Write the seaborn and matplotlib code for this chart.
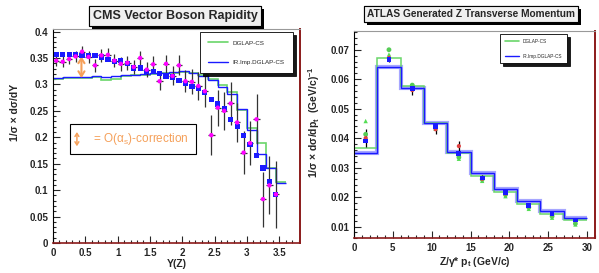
import numpy as np
import seaborn as sns
import matplotlib.pyplot as plt
from matplotlib import patheffects
from matplotlib.lines import Line2D
from matplotlib.ticker import FuncFormatter, MultipleLocator

# ---- left panel data: CMS Z rapidity ----
y_bins = [0.05, 0.15, 0.25, 0.35, 0.45, 0.55, 0.65, 0.75, 0.85, 0.95,
          1.05, 1.15, 1.25, 1.35, 1.45, 1.55, 1.65, 1.75, 1.85, 1.95,
          2.05, 2.15, 2.25, 2.35, 2.45, 2.55, 2.65, 2.75, 2.85, 2.95,
          3.05, 3.15, 3.25, 3.35, 3.45]
cms_data = [0.345, 0.343, 0.348, 0.353, 0.362, 0.352, 0.336, 0.355, 0.356, 0.345,
            0.339, 0.341, 0.333, 0.350, 0.328, 0.338, 0.306, 0.339, 0.316, 0.336,
            0.306, 0.305, 0.297, 0.287, 0.204, 0.256, 0.250, 0.264, 0.228, 0.171,
            0.189, 0.234, 0.083, 0.109, 0.092]
cms_err = [0.010, 0.010, 0.010, 0.010, 0.011, 0.011, 0.012, 0.012, 0.012, 0.012,
           0.013, 0.013, 0.013, 0.014, 0.014, 0.015, 0.016, 0.017, 0.018, 0.019,
           0.021, 0.024, 0.026, 0.029, 0.038, 0.034, 0.036, 0.040, 0.037, 0.040,
           0.042, 0.047, 0.052, 0.055, 0.063]
cms_blue = [0.356, 0.356, 0.356, 0.356, 0.355, 0.354, 0.355, 0.352, 0.347, 0.344,
            0.345, 0.339, 0.331, 0.331, 0.325, 0.325, 0.320, 0.316, 0.314, 0.308,
            0.301, 0.296, 0.292, 0.284, 0.272, 0.263, 0.255, 0.234, 0.221, 0.203,
            0.186, 0.165, 0.142, 0.117, 0.092]
rap_edges = [0.0, 0.15, 0.3, 0.45, 0.6, 0.75, 0.9, 1.05, 1.2, 1.35, 1.5, 1.65,
             1.8, 1.95, 2.1, 2.25, 2.4, 2.55, 2.7, 2.85, 3.0, 3.15, 3.3, 3.45, 3.6]
rap_dglap = [0.310, 0.312, 0.313, 0.313, 0.315, 0.309, 0.310, 0.316, 0.317, 0.318,
             0.320, 0.321, 0.322, 0.323, 0.321, 0.318, 0.311, 0.298, 0.285, 0.252,
             0.218, 0.190, 0.142, 0.115]
rap_irimp = [0.313, 0.314, 0.314, 0.314, 0.316, 0.314, 0.316, 0.317, 0.318, 0.319,
             0.321, 0.322, 0.323, 0.325, 0.322, 0.316, 0.309, 0.296, 0.281, 0.253,
             0.213, 0.169, 0.141, 0.113]

# ---- right panel data: ATLAS Z pT ----
pt_edges = [0, 3, 6, 9, 12, 15, 18, 21, 24, 27, 30]
pt_centers = [1.5, 4.5, 7.5, 10.5, 13.5, 16.5, 19.5, 22.5, 25.5, 28.5]
pt_dglap = [0.0365, 0.0671, 0.0578, 0.0450, 0.0348, 0.0271, 0.0217, 0.0176, 0.0144, 0.0121]
pt_irimp = [0.0350, 0.0641, 0.0569, 0.0450, 0.0354, 0.0280, 0.0226, 0.0185, 0.0153, 0.0128]
pt_data = [0.0400, 0.0672, 0.0563, 0.0430, 0.0373, 0.0262, 0.0212, 0.0170, 0.0142, 0.0122]
pt_err = [0.0030, 0.0015, 0.0015, 0.0015, 0.0017, 0.0012, 0.0010, 0.0008, 0.0008, 0.0008]
pt_blue = [0.0390, 0.0666, 0.0569, 0.0440, 0.0347, 0.0265, 0.0215, 0.0172, 0.0145, 0.0122]
pt_green1 = [0.0413, 0.0700, 0.0580, 0.0438, 0.0335, 0.0260, 0.0208, 0.0165, 0.0135, 0.0110]
pt_green2 = [0.0458, 0.0684, 0.0575, 0.0432, 0.0330, 0.0255, 0.0203, 0.0160, 0.0130, 0.0107]

sns.set_style("ticks")
plt.rcParams['font.family'] = ['Liberation Sans', 'DejaVu Sans']
plt.rcParams['mathtext.default'] = 'regular'

GREEN = '#6ad66a'
BLUE = '#1a1aff'
PINK = '#ff00ff'
ORANGE = '#f5a05a'
FRAME_RED = '#8b1a1a'

fig = plt.figure(figsize=(5.99, 2.73), dpi=100)
ax1 = fig.add_axes([0.0885, 0.11, 0.412, 0.784])
ax2 = fig.add_axes([0.591, 0.127, 0.402, 0.761])


def root_style(ax):
    ax.tick_params(which='both', direction='in', top=False, right=False,
                   labelsize=7, width=0.8)
    ax.tick_params(which='major', length=5)
    ax.tick_params(which='minor', length=2.5)
    for lab in ax.get_xticklabels() + ax.get_yticklabels():
        lab.set_fontweight('bold')
    ax.spines['left'].set_color('black')
    ax.spines['top'].set_color('#999999')
    ax.spines['top'].set_linewidth(0.8)
    ax.spines['bottom'].set_color(FRAME_RED)
    ax.spines['right'].set_color(FRAME_RED)
    ax.spines['bottom'].set_linewidth(1.2)
    ax.spines['right'].set_linewidth(1.4)
    ax.yaxis.set_major_formatter(FuncFormatter(lambda v, p: '%g' % round(v, 4)))
    ax.xaxis.set_major_formatter(FuncFormatter(lambda v, p: '%g' % round(v, 4)))


# ---- left panel ----
ax1.stairs(rap_dglap, rap_edges, baseline=None, color=GREEN, lw=1.2)
ax1.stairs(rap_irimp, rap_edges, baseline=None, color=BLUE, lw=1.0)
ax1.errorbar(y_bins, cms_data, yerr=cms_err, xerr=0.05, fmt='none',
             ecolor='#333333', elinewidth=0.9, zorder=3)
sns.scatterplot(x=y_bins, y=cms_blue, ax=ax1, marker='s', s=14, color=BLUE,
                edgecolor='none', zorder=4)
sns.scatterplot(x=y_bins, y=cms_data, ax=ax1, marker='o', s=10, color=PINK,
                edgecolor='none', zorder=5)
ax1.set_xlim(0, 3.82)
ax1.set_ylim(0, 0.405)
ax1.xaxis.set_major_locator(MultipleLocator(0.5))
ax1.xaxis.set_minor_locator(MultipleLocator(0.1))
ax1.yaxis.set_major_locator(MultipleLocator(0.05))
ax1.yaxis.set_minor_locator(MultipleLocator(0.01))
root_style(ax1)
ax1.set_xlabel('Y(Z)', fontsize=7.5, fontweight='bold', labelpad=1)
ax1.set_ylabel('1/σ × dσ/dY', fontsize=7.5, fontweight='bold')
ax1.yaxis.set_label_coords(-0.135, 0.61)

# O(alpha_s) arrow inside the data
ax1.annotate('', xy=(0.44, 0.312), xytext=(0.44, 0.353),
             arrowprops=dict(arrowstyle='<->,head_length=0.35,head_width=0.22',
                             color=ORANGE, lw=1.5, shrinkA=0, shrinkB=0))
# explanation box
ax1.text(1.24, 0.196, '     = O(α$_s$)-correction', color=ORANGE, fontsize=8.5,
         ha='center', va='center',
         bbox=dict(boxstyle='square,pad=0.6', fc='white', ec='black', lw=0.8))
ax1.annotate('', xy=(0.37, 0.183), xytext=(0.37, 0.210),
             arrowprops=dict(arrowstyle='<->,head_length=0.22,head_width=0.14',
                             color=ORANGE, lw=1.1, shrinkA=0, shrinkB=0))

leg1 = ax1.legend(handles=[Line2D([], [], color=GREEN, lw=1.2),
                           Line2D([], [], color=BLUE, lw=1.0)],
                  labels=['DGLAP-CS', 'IR.Imp.DGLAP-CS'],
                  loc='upper right', bbox_to_anchor=(0.985, 1.0), fontsize=4.5,
                  fancybox=False, edgecolor='black', framealpha=1,
                  borderpad=1.3, labelspacing=2.3, handlelength=3.2,
                  shadow={'color': 'black', 'alpha': 0.9})
leg1.get_frame().set_linewidth(0.6)

# ---- right panel ----
ax2.stairs(pt_irimp, pt_edges, baseline=None, color='#9090ff', lw=3.0, alpha=0.8)
ax2.stairs(pt_dglap, pt_edges, baseline=None, color=GREEN, lw=1.1)
ax2.stairs(pt_irimp, pt_edges, baseline=None, color=BLUE, lw=1.0)
ax2.errorbar(pt_centers, pt_data, yerr=pt_err, fmt='none', ecolor='black',
             elinewidth=0.9, zorder=3)
sns.scatterplot(x=pt_centers, y=pt_green2, ax=ax2, marker='^', s=10,
                color='#55dd55', edgecolor='none', zorder=4)
sns.scatterplot(x=pt_centers, y=pt_green1, ax=ax2, marker='o', s=12,
                color='#55cc55', edgecolor='none', zorder=4)
sns.scatterplot(x=pt_centers, y=pt_data, ax=ax2, marker='o', s=9,
                color='#e04040', edgecolor='none', zorder=5)
sns.scatterplot(x=pt_centers, y=pt_blue, ax=ax2, marker='s', s=12,
                color=BLUE, edgecolor='none', zorder=6)
ax2.set_xlim(0, 31)
ax2.set_ylim(0.006, 0.0765)
ax2.xaxis.set_major_locator(MultipleLocator(5))
ax2.xaxis.set_minor_locator(MultipleLocator(1))
ax2.yaxis.set_major_locator(MultipleLocator(0.01))
ax2.yaxis.set_minor_locator(MultipleLocator(0.002))
root_style(ax2)
ax2.set_xlabel('Z/γ* p$_t$ (GeV/c)', fontsize=7.5, fontweight='bold', labelpad=1)
ax2.set_ylabel('1/σ × dσ/dp$_t$  (GeV/c)$^{-1}$', fontsize=7.5, fontweight='bold')
ax2.yaxis.set_label_coords(-0.135, 0.56)

leg2 = ax2.legend(handles=[Line2D([], [], color=GREEN, lw=1.2),
                           Line2D([], [], color=BLUE, lw=1.0)],
                  labels=['DGLAP-CS', 'IR.Imp.DGLAP-CS'],
                  loc='upper left', bbox_to_anchor=(0.598, 0.995), fontsize=3.4,
                  fancybox=False, edgecolor='black', framealpha=1,
                  borderpad=1.0, labelspacing=2.1, handlelength=3.0,
                  shadow={'color': 'black', 'alpha': 0.9})
leg2.get_frame().set_linewidth(0.6)

# ---- title boxes ----
for xc, yc, title, fs in [(0.2924, 0.941, 'CMS Vector Boson Rapidity', 9.0),
                          (0.7868, 0.949, 'ATLAS Generated Z Transverse Momentum', 7.3)]:
    t = fig.text(xc, yc, title, ha='center', va='center', fontsize=fs,
                 fontweight='bold',
                 bbox=dict(boxstyle='square,pad=0.3', fc='#f0f0f0', ec='black', lw=0.8))
    t.get_bbox_patch().set_path_effects([
        patheffects.withSimplePatchShadow(offset=(2, -2), shadow_rgbFace='black', alpha=1),
        patheffects.Normal()])

fig.savefig('out.png', dpi=100)
